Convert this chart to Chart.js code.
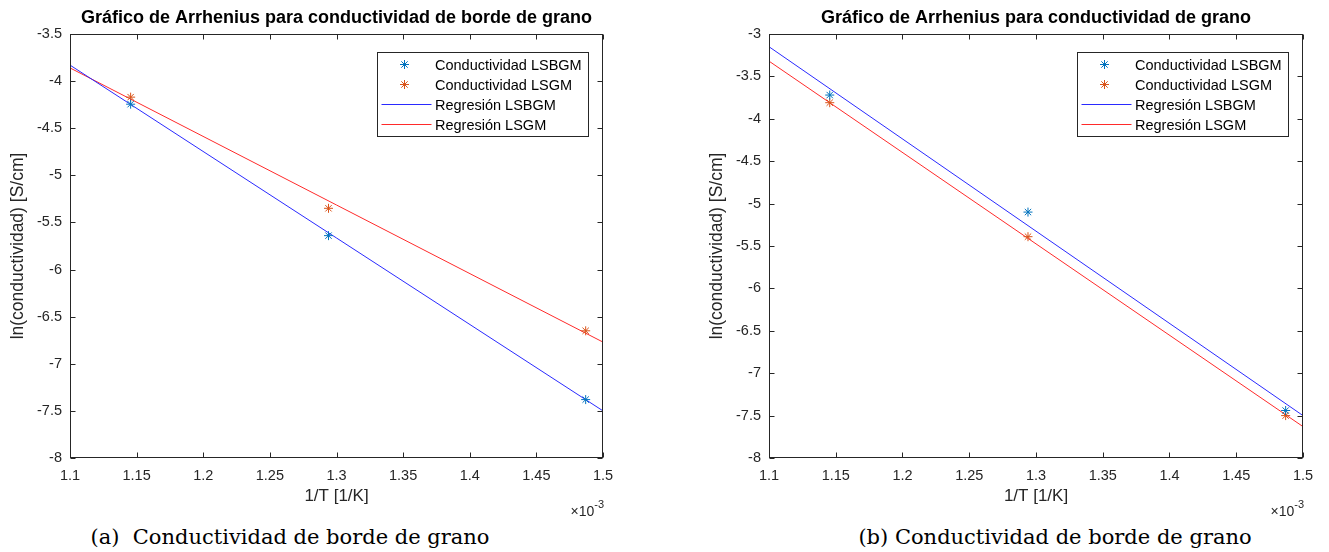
<!DOCTYPE html>
<html><head><meta charset="utf-8">
<script src="https://cdn.jsdelivr.net/npm/chart.js@4.4.0/dist/chart.umd.min.js"></script>
<style>
body{margin:0;background:#fff;width:1329px;height:552px;overflow:hidden;position:relative;font-family:"Liberation Sans",Arial,sans-serif}
canvas{position:absolute;top:0}
#c1{left:0}
#c2{left:664px}
.cap{position:absolute;top:525px;font-family:"DejaVu Serif",serif;font-size:21px;color:#000;white-space:pre;transform:translateX(-50%)}
#cap1{left:290px}
#cap2{left:1055px}
</style></head><body>
<canvas id="c1" width="664" height="520"></canvas>
<canvas id="c2" width="665" height="520"></canvas>
<div class="cap" id="cap1">(a)  Conductividad de borde de grano</div>
<div class="cap" id="cap2">(b) Conductividad de borde de grano</div>
<script>
// ---- data ----
const xTicks = [1.1, 1.15, 1.2, 1.25, 1.3, 1.35, 1.4, 1.45, 1.5];
const xTickLabels = ['1.1','1.15','1.2','1.25','1.3','1.35','1.4','1.45','1.5'];
const yTicksA = [-8, -7.5, -7, -6.5, -6, -5.5, -5, -4.5, -4, -3.5];
const yTickLabelsA = ['-8','-7.5','-7','-6.5','-6','-5.5','-5','-4.5','-4','-3.5'];
const yTicksB = [-8, -7.5, -7, -6.5, -6, -5.5, -5, -4.5, -4, -3.5, -3];
const yTickLabelsB = ['-8','-7.5','-7','-6.5','-6','-5.5','-5','-4.5','-4','-3.5','-3'];

const invT = [1.1455, 1.294, 1.487];          // 1/T (x10^-3 1/K)
const lsbgmA = [-4.245, -5.64, -7.38];
const lsgmA  = [-4.17, -5.35, -6.65];
const lsbgmB = [-3.72, -5.10, -7.44];
const lsgmB  = [-3.81, -5.39, -7.50];

const fitX = [1.1, 1.5];
const regLsbgmA = [-3.83, -7.50];
const regLsgmA  = [-3.86, -6.77];
const regLsbgmB = [-3.15, -7.50];
const regLsgmB  = [-3.32, -7.63];

const titles = ['Gráfico de Arrhenius para conductividad de borde de grano',
                'Gráfico de Arrhenius para conductividad de grano'];
const labels = ['Conductividad LSBGM', 'Conductividad LSGM', 'Regresión LSBGM', 'Regresión LSGM'];
const xTitle = '1/T [1/K]';
const yTitle = 'ln(conductividad) [S/cm]';

// ---- style ----
const FONT = '"Liberation Sans", Arial, sans-serif';
const AX = '#262626';
const C_BLUE_M = '#0072BD', C_ORANGE_M = '#D95319', C_BLUE_L = '#2a2aff', C_RED_L = '#ff2a2a';

const pts = (xs, ys) => xs.map((x, i) => ({x, y: ys[i]}));

const matlabPlugin = {
  id: 'matlab',
  afterDraw(chart) {
    const ctx = chart.ctx, a = chart.chartArea;
    const xs = chart.scales.x, ys = chart.scales.y;
    ctx.save();
    ctx.strokeStyle = AX; ctx.lineWidth = 1;
    const L = Math.round(a.left) + 0.5, R = Math.round(a.right) - 0.5;
    const T = Math.round(a.top) + 0.5, B = Math.round(a.bottom) - 0.5;
    ctx.strokeRect(L, T, R - L, B - T);
    const tl = 5;
    ctx.beginPath();
    xs.ticks.forEach(t => {
      const p = Math.round(xs.getPixelForValue(t.value)) + 0.5;
      ctx.moveTo(p, B); ctx.lineTo(p, B - tl);
      ctx.moveTo(p, T); ctx.lineTo(p, T + tl);
    });
    ys.ticks.forEach(t => {
      const p = Math.round(ys.getPixelForValue(t.value)) + 0.5;
      ctx.moveTo(L, p); ctx.lineTo(L + tl, p);
      ctx.moveTo(R, p); ctx.lineTo(R - tl, p);
    });
    ctx.stroke();

    // legend
    const lw = 211, lh = 84;
    const bx = Math.round(a.right - 15 - lw) + 0.5, by = Math.round(a.top + 18) + 0.5;
    ctx.fillStyle = '#fff';
    ctx.fillRect(bx, by, lw, lh);
    ctx.strokeStyle = AX;
    ctx.strokeRect(bx, by, lw, lh);
    ctx.font = '14.5px ' + FONT;
    ctx.textBaseline = 'middle';
    ctx.textAlign = 'left';
    chart.data.datasets.forEach((ds, i) => {
      const cy = by + 12 + i * 20;
      if (ds.showLine) {
        ctx.strokeStyle = ds.borderColor; ctx.lineWidth = 1;
        ctx.beginPath(); ctx.moveTo(bx + 4, cy); ctx.lineTo(bx + 54, cy); ctx.stroke();
      } else {
        ctx.strokeStyle = ds.borderColor; ctx.fillStyle = ds.borderColor; ctx.lineWidth = 1;
        Chart.helpers.drawPoint(ctx, {pointStyle: 'star', radius: 4.5, borderWidth: 1}, bx + 27, cy);
      }
      ctx.fillStyle = '#000';
      ctx.fillText(ds.label, bx + 57.5, cy + 1);
    });

    // exponent label
    ctx.fillStyle = AX;
    ctx.textBaseline = 'alphabetic';
    ctx.textAlign = 'right';
    ctx.font = '11px ' + FONT;
    const supW = ctx.measureText('-3').width;
    ctx.fillText('-3', a.right + 1, 508);
    ctx.font = '14px ' + FONT;
    ctx.fillText('\u00d710', a.right + 1 - supW, 516);
    ctx.restore();
  }
};

function makeChart(id, idx, s1, s2, r1, r2, yTicks, yLabels, padLeft, padRight) {
  const font = (size, weight) => ({family: FONT, size, weight: weight || 'normal', lineHeight: 1.2});
  return new Chart(document.getElementById(id), {
    type: 'scatter',
    data: {
      datasets: [
        {label: labels[0], data: pts(invT, s1), pointStyle: 'star', pointRadius: 4.5, borderColor: C_BLUE_M, backgroundColor: C_BLUE_M, borderWidth: 1, showLine: false},
        {label: labels[1], data: pts(invT, s2), pointStyle: 'star', pointRadius: 4.5, borderColor: C_ORANGE_M, backgroundColor: C_ORANGE_M, borderWidth: 1, showLine: false},
        {label: labels[2], data: pts(fitX, r1), showLine: true, pointRadius: 0, borderColor: C_BLUE_L, borderWidth: 1, fill: false},
        {label: labels[3], data: pts(fitX, r2), showLine: true, pointRadius: 0, borderColor: C_RED_L, borderWidth: 1, fill: false}
      ]
    },
    options: {
      responsive: false, animation: false, events: [],
      layout: {padding: {left: padLeft, right: padRight, top: 0, bottom: 0}},
      plugins: {
        legend: {display: false}, tooltip: {enabled: false},
        title: {display: true, text: titles[idx], fullSize: false, color: '#000', font: font(18, 'bold'), padding: {top: 7, bottom: 5.4}}
      },
      scales: {
        x: {
          type: 'linear', min: 1.1, max: 1.5,
          afterBuildTicks: s => { s.ticks = xTicks.map(v => ({value: v})); },
          afterFit: s => { s.height = 62; },
          grid: {display: false, drawTicks: false}, border: {display: false},
          ticks: {callback: (v, i) => xTickLabels[i], color: AX, font: font(14.5), padding: 9, maxRotation: 0, autoSkip: false},
          title: {display: true, text: xTitle, color: AX, font: font(17), padding: {top: 0, bottom: 13}}
        },
        y: {
          type: 'linear', min: yTicks[0], max: yTicks[yTicks.length - 1],
          afterBuildTicks: s => { s.ticks = yTicks.map(v => ({value: v})); },
          afterFit: s => { s.width = 70; },
          grid: {display: false, drawTicks: false}, border: {display: false},
          ticks: {callback: (v, i) => yLabels[i], color: AX, font: font(14.5), padding: 8, autoSkip: false},
          title: {display: true, text: yTitle, color: AX, font: font(17.5), padding: {top: 8, bottom: 0}}
        }
      }
    },
    plugins: [matlabPlugin]
  });
}

makeChart('c1', 0, lsbgmA, lsgmA, regLsbgmA, regLsgmA, yTicksA, yTickLabelsA, 0, 61);
makeChart('c2', 1, lsbgmB, lsgmB, regLsbgmB, regLsgmB, yTicksB, yTickLabelsB, 35, 26);
</script>
</body></html>
